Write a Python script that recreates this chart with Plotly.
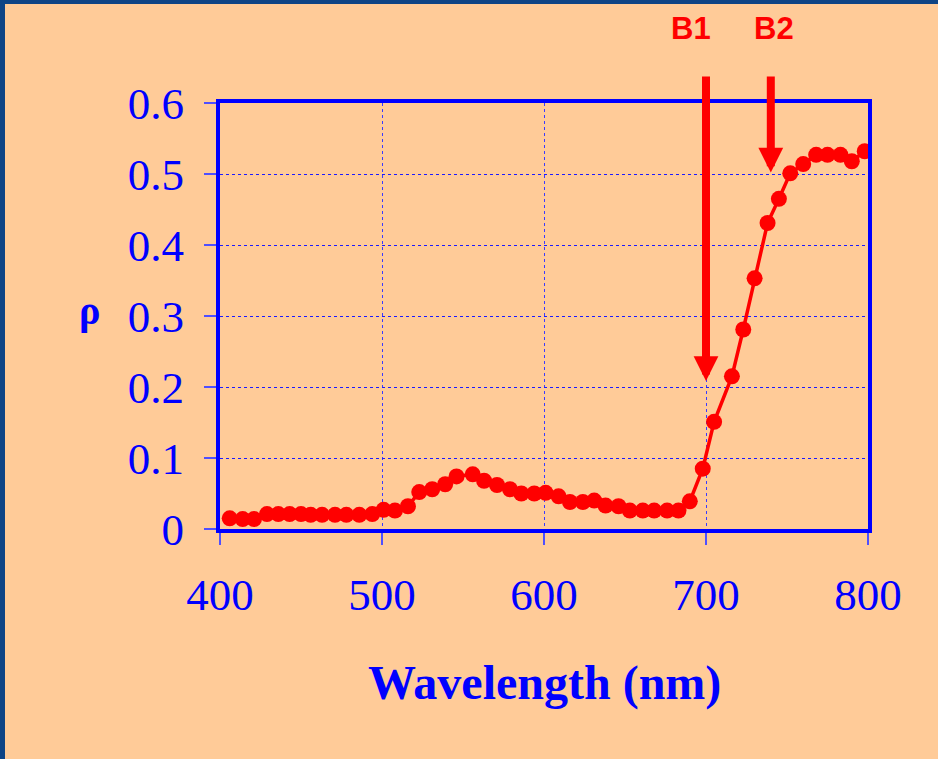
import plotly.graph_objects as go

# Reflectance spectrum of a leaf (wavelength in nm, reflectance fraction)
wavelength = [406, 414, 421, 429, 436, 443, 450, 456, 463, 471,
              478, 486, 494, 501, 508, 516, 523, 531, 539, 546,
              556, 563, 571, 579, 586, 594, 601, 609, 616, 624,
              631, 638, 646, 653, 661, 668, 676, 683, 690, 698,
              705, 716, 723, 730, 738, 745, 752, 760, 768, 775,
              783, 790, 798, 806]
reflectance = [0.015, 0.014, 0.014, 0.021, 0.021, 0.021, 0.021, 0.020, 0.020, 0.020,
               0.020, 0.020, 0.021, 0.027, 0.026, 0.032, 0.052, 0.056, 0.063, 0.074,
               0.077, 0.068, 0.062, 0.056, 0.050, 0.050, 0.051, 0.046, 0.038, 0.038,
               0.040, 0.033, 0.032, 0.026, 0.026, 0.026, 0.026, 0.026, 0.039, 0.085,
               0.151, 0.215, 0.281, 0.353, 0.431, 0.465, 0.501, 0.514, 0.527, 0.527,
               0.527, 0.518, 0.532, 0.533]

x_ticks = [400, 500, 600, 700, 800]
y_ticks = [0, 0.1, 0.2, 0.3, 0.4, 0.5, 0.6]

# Band markers: label, wavelength, reflectance at the arrow tip
band_labels = ["B1", "B2"]
band_wavelength = [700, 740]
band_tip = [0.2085, 0.502]
band_label_x = [691, 742]

W, H = 938, 759
ML, MR, MT, MB = 220, 70, 103, 230
PW, PH = W - ML - MR, H - MT - MB

BLUE = "#0000FF"
RED = "#FF0000"
BG = "#FFCB98"
EDGE = "#0E4485"

fig = go.Figure()
fig.add_trace(go.Scatter(
    x=wavelength, y=reflectance, mode="lines+markers",
    line=dict(color=RED, width=3.5),
    marker=dict(color=RED, size=16),
    showlegend=False,
))

annotations = []
for lab, wl, tip, lx in zip(band_labels, band_wavelength, band_tip, band_label_x):
    tip_px = MT + (0.6 - tip) / 0.6 * PH
    annotations.append(dict(
        x=wl, y=tip, xref="x", yref="y", text="", showarrow=True,
        ax=0, ay=-(tip_px - 75), arrowcolor=RED, arrowwidth=8,
        arrowhead=2, arrowsize=0.62, standoff=0, startstandoff=0,
    ))
    annotations.append(dict(
        x=lx, y=(H - MB - 29) / PH, xref="x", yref="paper",
        text=f"<b>{lab}</b>", showarrow=False,
        font=dict(family="Liberation Sans", size=31, color=RED),
        xanchor="center", yanchor="middle",
    ))

annotations.append(dict(
    x=0.5, y=(H - MB - 683) / PH, xref="paper", yref="paper",
    text="<b>Wavelength (nm)</b>", showarrow=False,
    font=dict(family="Liberation Serif", size=48, color=BLUE),
    xanchor="center", yanchor="middle",
))
annotations.append(dict(
    x=(89 - ML) / PW, y=(H - MB - 310) / PH, xref="paper", yref="paper",
    text="<b>ρ</b>", showarrow=False,
    font=dict(family="Liberation Serif", size=40, color=BLUE),
    xanchor="center", yanchor="middle",
))

shapes = [
    # dark edge along the left and top of the page
    dict(type="rect", xref="paper", yref="paper",
         x0=-ML / PW, x1=(-ML + 5) / PW, y0=-MB / PH, y1=1 + MT / PH,
         fillcolor=EDGE, line=dict(width=0), layer="above"),
    dict(type="rect", xref="paper", yref="paper",
         x0=-ML / PW, x1=1 + MR / PW, y0=1 + (MT - 4) / PH, y1=1 + MT / PH,
         fillcolor=EDGE, line=dict(width=0), layer="above"),
]

axis_font = dict(family="Liberation Serif", size=45, color=BLUE)

fig.update_layout(
    width=W, height=H,
    margin=dict(l=ML, r=MR, t=MT, b=MB),
    paper_bgcolor=BG, plot_bgcolor=BG,
    annotations=annotations, shapes=shapes,
    xaxis=dict(
        range=[400, 800], tickvals=x_ticks, ticktext=[str(v) for v in x_ticks],
        showline=True, mirror=True, linecolor=BLUE, linewidth=4,
        ticks="outside", ticklen=12, tickwidth=1.5, tickcolor="#4F4FFF",
        showgrid=True, gridcolor="#3A3AFF", gridwidth=1, griddash="3px,3px",
        zeroline=False, tickfont=axis_font, ticklabelstandoff=11,
    ),
    yaxis=dict(
        range=[0, 0.6], tickvals=y_ticks, ticktext=["0", "0.1", "0.2", "0.3", "0.4", "0.5", "0.6"],
        showline=True, mirror=True, linecolor=BLUE, linewidth=4,
        ticks="outside", ticklen=12, tickwidth=1.5, tickcolor="#4F4FFF",
        showgrid=True, gridcolor="#1A1AFF", gridwidth=1, griddash="3px,3px",
        zeroline=False, tickfont=axis_font, ticklabelstandoff=11,
    ),
)

fig.write_html("out.html")
